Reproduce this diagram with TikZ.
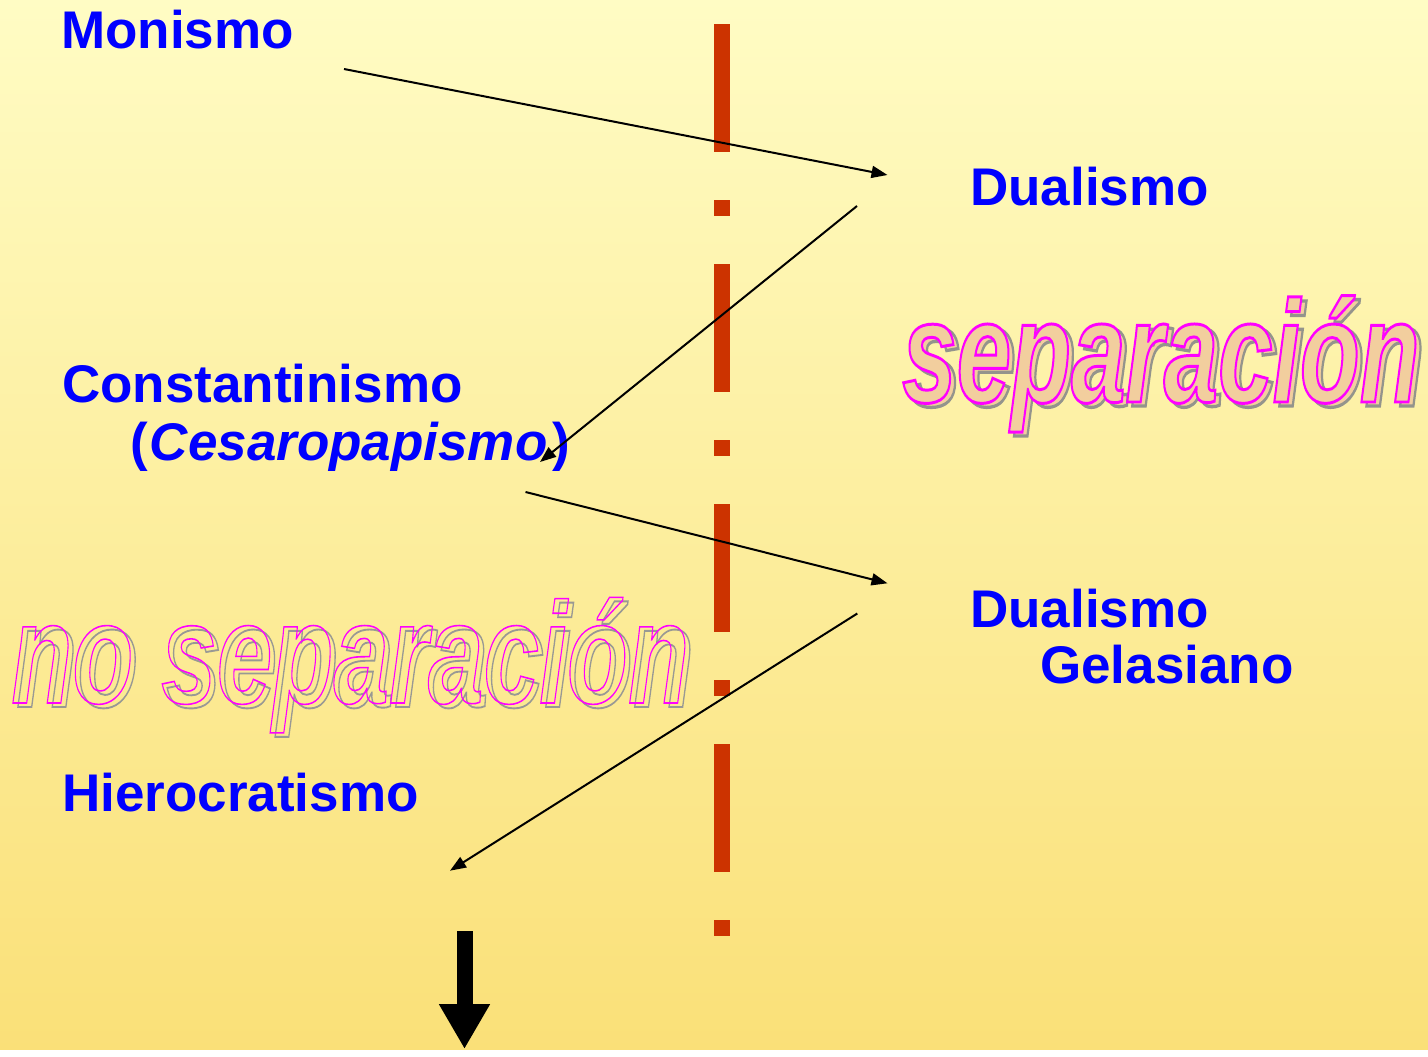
\documentclass[tikz,border=0pt]{standalone}
\usepackage{fontspec}
\setmainfont{Liberation Sans}
\usepackage{graphicx}
\usetikzlibrary{arrows.meta}
\definecolor{bgtop}{RGB}{255,252,196}
\definecolor{bgbot}{RGB}{250,224,120}
\definecolor{dashred}{RGB}{204,51,0}
\definecolor{lblue}{RGB}{0,0,255}
\definecolor{peach}{RGB}{242,206,158}
\newcommand\strkon[3]{\special{pdf:literal direct #1 Tr #2 w #3 RG}}
\newcommand\strkoff{\special{pdf:literal direct 0 Tr}}
\tikzset{
  lbl/.style={anchor=base west, inner sep=0pt, text=lblue, font=\fontsize{53}{60}\selectfont\bfseries},
  wa/.style={anchor=base west, inner sep=0pt, font=\bfseries\itshape},
  conn/.style={line width=2pt, -{Triangle[length=16pt,width=12pt]}},
  bigarrow/.style={line width=16pt, -{Triangle[length=45pt,width=48pt]}},
  dashbar/.style={fill=dashred}
}
\begin{document}
\begin{tikzpicture}[x=1pt,y=-1pt]
\begin{scope}[y=1pt]
\shade[top color=bgtop, bottom color=bgbot] (0,0) rectangle (1428,-1049);
\useasboundingbox (0,0) rectangle (1428,-1049);
\end{scope}
% dash-dot separator
\foreach \k in {0,1,2,3}{
  \fill[dashbar] (714,24+240*\k) rectangle (729.5,152+240*\k);
  \fill[dashbar] (714,200+240*\k) rectangle (729.5,216+240*\k);
}
% WordArt texts
\node[wa] (sepshadow) at (907,406) {\fontsize{98}{100}\selectfont\scalebox{1}[1.48]{\color{peach}\strkon{2}{2.2}{0.58 0.58 0.55}separación\strkoff}};
\node[wa] (sep) at (902,402) {\fontsize{98}{100}\selectfont\scalebox{1}[1.48]{\color{peach}\strkon{2}{2}{1 0 1}separación\strkoff}};
\node[wa] (noshadow) at (16,707) {\fontsize{100}{102}\selectfont\scalebox{1}[1.44]{\color{bgbot}\strkon{1}{1.3}{0.6 0.6 0.58}no separación\strkoff}};
\node[wa] (nosep) at (11,703) {\fontsize{100}{102}\selectfont\scalebox{1}[1.44]{\color{bgbot}\strkon{1}{1.1}{1 0 1}no separación\strkoff}};
% labels
\node[lbl] (monismo) at (61,48.5) {Monismo};
\node[lbl] (dual1) at (970,205) {Dualismo};
\node[lbl] (const) at (62,402) {Constantinismo};
\node[lbl] (cesaro) at (130,460) {(\hspace{2pt}\textit{Cesaropapismo}\hspace{5pt})};
\node[lbl] (dual2) at (970,627) {Dualismo};
\node[lbl] (gelas) at (1040,683) {Gelasiano};
\node[lbl] (hiero) at (62,811) {Hierocratismo};
% arrow end points
\coordinate (a1s) at (344,69);
\coordinate (a1e) at (887.5,175);
\coordinate (a2s) at (857,206);
\coordinate (a2e) at (540,462);
\coordinate (a3s) at (525.5,492);
\coordinate (a3e) at (887.5,583.3);
\coordinate (a4s) at (857.3,613.5);
\coordinate (a4e) at (450,870.7);
\coordinate (bs) at (464.5,931);
\coordinate (be) at (464.5,1049);
\draw[conn] (a1s) -- (a1e);
\draw[conn] (a2s) -- (a2e);
\draw[conn] (a3s) -- (a3e);
\draw[conn] (a4s) -- (a4e);
\draw[bigarrow] (bs) -- (be);
\end{tikzpicture}
\end{document}
